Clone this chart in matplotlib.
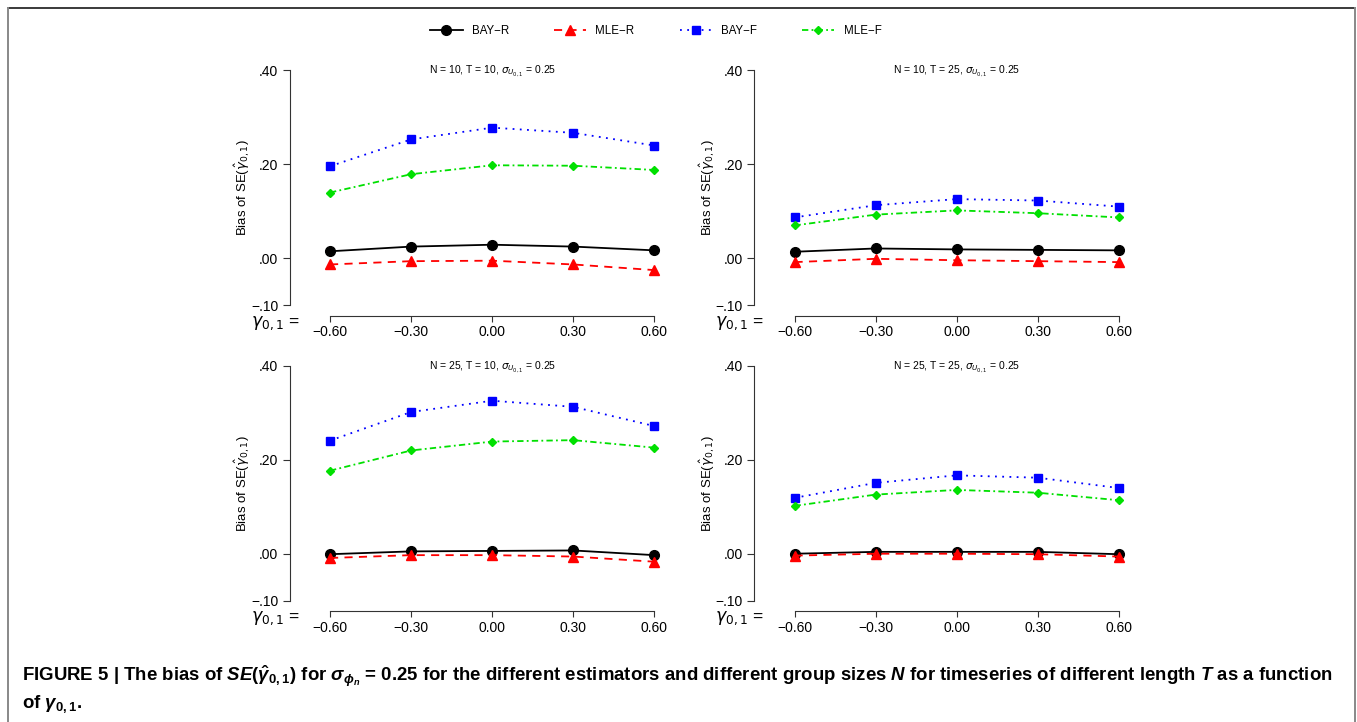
import numpy as np
import matplotlib
matplotlib.use('Agg')
from matplotlib import pyplot as plt
from matplotlib.lines import Line2D
from matplotlib.ticker import FuncFormatter

plt.rcParams['font.family'] = ['Liberation Sans', 'DejaVu Sans']
plt.rcParams['mathtext.fontset'] = 'custom'
plt.rcParams['mathtext.rm'] = 'Liberation Sans:bold'
plt.rcParams['mathtext.it'] = 'Liberation Sans:bold:italic'
plt.rcParams['mathtext.bf'] = 'Liberation Sans:bold'

# x values: gamma_{0,1}
gamma = [-0.60, -0.30, 0.00, 0.30, 0.60]
gammaLabels = ['\u22120.60', '\u22120.30', '0.00', '0.30', '0.60']

# panel titles
panelTitles = [r'N = 10, T = 10, $\sigma_{U_{0,1}}$ = 0.25',
               r'N = 10, T = 25, $\sigma_{U_{0,1}}$ = 0.25',
               r'N = 25, T = 10, $\sigma_{U_{0,1}}$ = 0.25',
               r'N = 25, T = 25, $\sigma_{U_{0,1}}$ = 0.25']

# bias of SE per panel
bayR = [[0.015, 0.025, 0.029, 0.025, 0.017],
        [0.014, 0.021, 0.019, 0.018, 0.017],
        [-0.001, 0.005, 0.006, 0.007, -0.003],
        [0.000, 0.004, 0.004, 0.004, -0.001]]
mleR = [[-0.013, -0.006, -0.005, -0.013, -0.025],
        [-0.008, -0.001, -0.004, -0.006, -0.008],
        [-0.009, -0.003, -0.003, -0.006, -0.017],
        [-0.004, 0.000, 0.000, -0.001, -0.006]]
bayF = [[0.196, 0.253, 0.278, 0.267, 0.240],
        [0.087, 0.113, 0.126, 0.123, 0.110],
        [0.241, 0.302, 0.326, 0.313, 0.272],
        [0.119, 0.151, 0.167, 0.162, 0.140]]
mleF = [[0.140, 0.179, 0.198, 0.197, 0.188],
        [0.070, 0.093, 0.102, 0.096, 0.087],
        [0.177, 0.220, 0.239, 0.242, 0.226],
        [0.102, 0.126, 0.136, 0.130, 0.114]]

seriesNames = ['BAY\u2212R', 'MLE\u2212R', 'BAY\u2212F', 'MLE\u2212F']
seriesData = [bayR, mleR, bayF, mleF]
yTicks = [-0.10, 0.00, 0.20, 0.40]

# line styles, R-like
styles = [dict(color='black', marker='o', ms=7, linestyle='-', lw=1.3),
          dict(color='#ff0000', marker='^', ms=7, dashes=(4.5, 3.5), lw=1.3),
          dict(color='#0000ff', marker='s', ms=5.5, dashes=(1, 3), lw=1.3),
          dict(color='#00e000', marker='D', ms=3.6, dashes=(3.5, 1.8, 1, 1.8), lw=1.3)]

W, H = 1357, 722
fig = plt.figure(figsize=(W / 100, H / 100), dpi=100)

# axes rectangles in pixels: left spine x, top, bottom
axLefts = [289.5, 754, 289.5, 754]
axTops = [65.6, 65.6, 361.3, 361.3]
axBottoms = [315.7, 315.7, 611.0, 611.0]
axWidth = 405.4


def FormatY(v, pos):
    s = '%.2f' % v
    s = s.replace('0.', '.', 1)
    return s.replace('-', '\u2212')


for i in range(4):
    ax = fig.add_axes([axLefts[i] / W, 1 - axBottoms[i] / H,
                       axWidth / W, (axBottoms[i] - axTops[i]) / H])
    for k in range(4):
        ax.plot(gamma, seriesData[k][i], label=seriesNames[k], **styles[k])

    ax.set_xlim(-0.75, 0.75)
    ax.set_ylim(-0.122, 0.41)
    for s in ['top', 'right']:
        ax.spines[s].set_visible(False)
    ax.spines['left'].set_bounds(-0.1, 0.4)
    ax.spines['bottom'].set_bounds(-0.6, 0.6)
    for s in ['left', 'bottom']:
        ax.spines[s].set_linewidth(0.8)
        ax.spines[s].set_color('#333333')

    ax.set_xticks(gamma)
    ax.set_xticklabels(gammaLabels)
    ax.set_yticks(yTicks)
    ax.yaxis.set_major_formatter(FuncFormatter(FormatY))
    ax.tick_params(axis='x', length=4, width=0.8, pad=3, labelsize=10, color='#333333')
    ax.tick_params(axis='y', length=5, width=0.8, pad=3, labelsize=10, color='#333333')

    ax.text(0, 0.397, panelTitles[i], ha='center', va='center', fontsize=7.5,
            math_fontfamily='dejavusans')
    ax.text(-47 / axWidth, 0.512, r'Bias of SE($\hat{\gamma}_{0,1}$)', rotation=90,
            ha='center', va='center', fontsize=9.5, transform=ax.transAxes,
            math_fontfamily='dejavusans')
    ax.text(10 / axWidth, -0.03, r'$\gamma_{0,1}$ =', ha='right', va='center',
            fontsize=12.5, transform=ax.transAxes, math_fontfamily='dejavusans')

# legend at top
handles, labels = fig.axes[0].get_legend_handles_labels()
fig.legend(handles, labels, loc='center', bbox_to_anchor=(0.4833, 1 - 31 / H), ncol=4,
           frameon=False, fontsize=8.3, handlelength=2.8, handletextpad=0.8,
           columnspacing=3.9)

# caption
fig.text(22.5 / W, 1 - 681 / H,
         r'FIGURE 5 | The bias of $SE(\hat{\gamma}_{0,1})$ for $\sigma_{\phi_n}$ = 0.25 for the '
         r'different estimators and different group sizes $N$ for timeseries of different '
         r'length $T$ as a function', fontsize=13.4, fontweight='bold', va='baseline', ha='left')
fig.text(22.5 / W, 1 - 708 / H, r'of $\gamma_{0,1}$.', fontsize=13.4, fontweight='bold',
         va='baseline', ha='left')

# frame around the figure
fig.add_artist(Line2D([7.5 / W, 1355 / W], [1 - 8.3 / H, 1 - 8.3 / H],
                      transform=fig.transFigure, color='#3a3a3a', lw=1.4))
fig.add_artist(Line2D([7.5 / W, 7.5 / W], [-0.01, 1 - 8.3 / H],
                      transform=fig.transFigure, color='#888888', lw=1.4))
fig.add_artist(Line2D([1355 / W, 1355 / W], [-0.01, 1 - 8.3 / H],
                      transform=fig.transFigure, color='#888888', lw=1.4))

fig.savefig('out.png', dpi=100)
